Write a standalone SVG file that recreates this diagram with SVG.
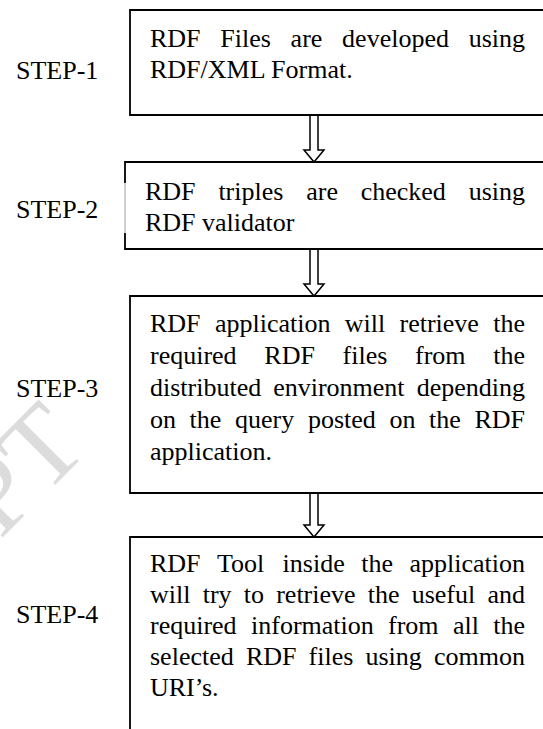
<svg xmlns="http://www.w3.org/2000/svg" width="543" height="729" viewBox="0 0 543 729">
<style>
.t{font-family:"Liberation Serif","Times New Roman",serif;font-size:26px;fill:#000}
.e{text-anchor:end}
.box{fill:none;stroke:#000;stroke-width:1.8}
.arr{fill:#fff;stroke:#000;stroke-width:1.5;stroke-linejoin:miter}
.wm{font-family:"Liberation Serif","Times New Roman",serif;font-size:110px;fill:#d4d4d4;opacity:0.8}
</style>
<rect x="0" y="0" width="543" height="729" fill="#fff"/>
<text class="wm" transform="translate(0,540) rotate(-45)">PT</text>

<g id="connectors">
  <polyline class="arr" points="310,115 310,150 304,150 314,162 324,150 318,150 318,115"/>
  <polyline class="arr" points="310,249 310,284 304,284 314,296 324,284 318,284 318,249"/>
  <polyline class="arr" points="310,493 310,525 304,525 314,537 324,525 318,525 318,493"/>
</g>

<g id="step1">
  <text class="t" x="16" y="79">STEP-1</text>
  <path class="box" d="M560,10 H130 V115 H560"/>
  <text class="t" y="47"><tspan x="150">RDF</tspan><tspan x="220.3">Files</tspan><tspan x="290.6">are</tspan><tspan x="342.1">developed</tspan><tspan x="468.7">using</tspan></text>
  <text class="t" x="150" y="78">RDF/XML Format.</text>
</g>

<g id="step2">
  <text class="t" x="16" y="218">STEP-2</text>
  <path class="box" d="M125,183 V162 H560 M560,249 H125 V233"/>
  <path d="M125,183 V233" fill="none" stroke="#888" stroke-width="0.8"/>
  <text class="t" y="200"><tspan x="145">RDF</tspan><tspan x="218.4">triples</tspan><tspan x="306.2">are</tspan><tspan x="360.7">checked</tspan><tspan x="468.7">using</tspan></text>
  <text class="t" x="145" y="231">RDF validator</text>
</g>

<g id="step3">
  <text class="t" x="16" y="397">STEP-3</text>
  <path class="box" d="M560,296 H130 V493 H560"/>
  <text class="t" y="332"><tspan x="150">RDF</tspan><tspan x="214.9">application</tspan><tspan x="344.7">will</tspan><tspan x="399.5">retrieve</tspan><tspan x="493.2">the</tspan></text>
  <text class="t" y="364"><tspan x="150">required</tspan><tspan x="264.3">RDF</tspan><tspan x="342.6">files</tspan><tspan x="415">from</tspan><tspan x="493.2">the</tspan></text>
  <text class="t" y="396"><tspan x="150">distributed</tspan><tspan x="273.2">environment</tspan><tspan x="416.7">depending</tspan></text>
  <text class="t" y="428"><tspan x="150">on</tspan><tspan x="189.6">the</tspan><tspan x="235">query</tspan><tspan x="307.9">posted</tspan><tspan x="389.4">on</tspan><tspan x="429">the</tspan><tspan x="474.4">RDF</tspan></text>
  <text class="t" x="150" y="460">application.</text>
</g>

<g id="step4">
  <text class="t" x="16" y="623">STEP-4</text>
  <path class="box" d="M560,537 H130 V740"/>
  <text class="t" y="572"><tspan x="150">RDF</tspan><tspan x="217">Tool</tspan><tspan x="282.6">inside</tspan><tspan x="361.2">the</tspan><tspan x="409.5">application</tspan></text>
  <text class="t" y="603"><tspan x="150">will</tspan><tspan x="202.7">try</tspan><tspan x="243.7">to</tspan><tspan x="276.2">retrieve</tspan><tspan x="367.7">the</tspan><tspan x="411.7">useful</tspan><tspan x="487.5">and</tspan></text>
  <text class="t" y="634"><tspan x="150">required</tspan><tspan x="251">information</tspan><tspan x="388">from</tspan><tspan x="452.9">all</tspan><tspan x="493.2">the</tspan></text>
  <text class="t" y="665"><tspan x="150">selected</tspan><tspan x="245.9">RDF</tspan><tspan x="308.6">files</tspan><tspan x="365.5">using</tspan><tspan x="434">common</tspan></text>
  <text class="t" x="150" y="696">URI’s.</text>
</g>
</svg>
